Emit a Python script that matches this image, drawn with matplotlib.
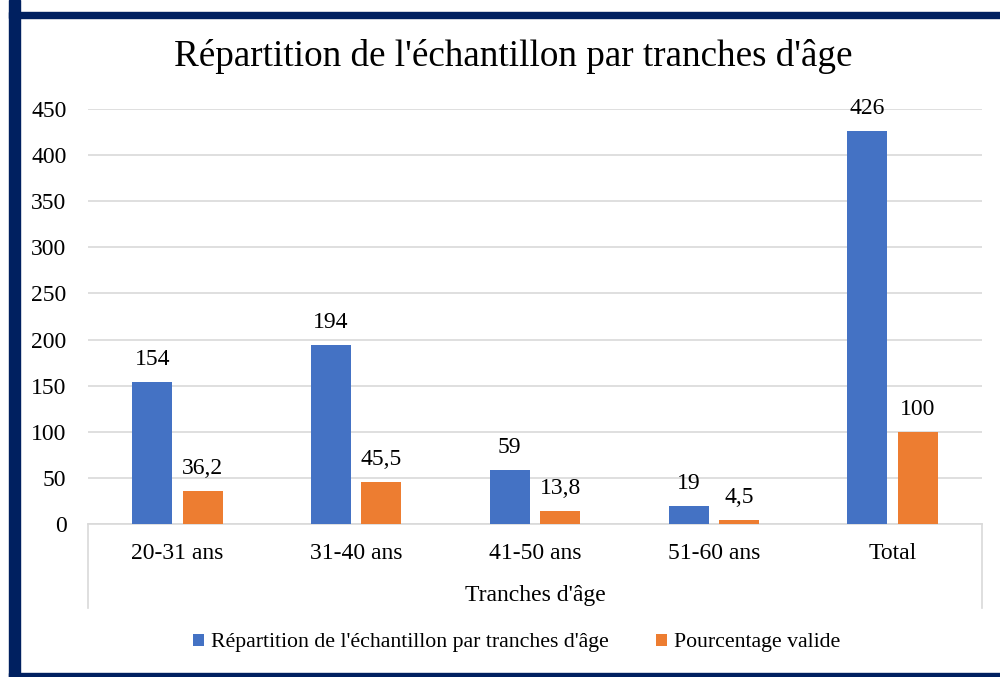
import matplotlib
matplotlib.use("Agg")
import matplotlib.pyplot as plt
from matplotlib.patches import Rectangle
import numpy as np

categories = ["20-31 ans", "31-40 ans", "41-50 ans", "51-60 ans", "Total"]
effectifs = [154, 194, 59, 19, 426]
pourcentages = [36.2, 45.5, 13.8, 4.5, 100]
series_names = ["Répartition de l'échantillon par tranches d'âge", "Pourcentage valide"]
yticks = [0, 50, 100, 150, 200, 250, 300, 350, 400, 450]

BLUE = "#4472C4"
ORANGE = "#ED7D31"
NAVY = "#002060"
GRID = "#D9D9D9"

plt.rcParams['font.family'] = ['Liberation Serif', 'DejaVu Serif']

W, H = 1000, 677
fig = plt.figure(figsize=(W / 100, H / 100), dpi=100)

def fx(px):
    return px / W

def fy(py):
    return 1 - py / H

# border
fig.patches.append(Rectangle((fx(9), fy(677)), fx(11), 677 / H, transform=fig.transFigure, color=NAVY, zorder=0))
fig.patches.append(Rectangle((fx(9), fy(18)), 1, 6 / H, transform=fig.transFigure, color=NAVY, zorder=0))
fig.patches.append(Rectangle((fx(9), fy(677)), 1, 4 / H, transform=fig.transFigure, color=NAVY, zorder=0))

left, right, top, bottom = 88, 982, 109, 524
ax = fig.add_axes([fx(left), fy(bottom), fx(right - left), (bottom - top) / H])

x = np.arange(len(categories))
off = 0.141
bw = 0.224
ax.bar(x - off, effectifs, bw, color=BLUE, label=series_names[0], zorder=3)
ax.bar(x + off, pourcentages, bw, color=ORANGE, label=series_names[1], zorder=3)

def fmt(v):
    s = f"{v:g}"
    return s.replace(".", ",")

for xi, v in zip(x - off, effectifs):
    ax.annotate(fmt(v), (xi, v), xytext=(0, 12), textcoords="offset pixels",
                ha="center", va="bottom", fontsize=17)
for xi, v in zip(x + off, pourcentages):
    ax.annotate(fmt(v), (xi, v), xytext=(0, 12), textcoords="offset pixels",
                ha="center", va="bottom", fontsize=17)

ax.set_xlim(-0.5, len(categories) - 0.5)
ax.set_ylim(0, 450)
ax.set_yticks(yticks)
ax.set_yticklabels([str(t) for t in yticks], fontsize=17)
ax.set_xticks(x)
ax.set_xticklabels(categories, fontsize=17)
ax.tick_params(axis='both', length=0)
ax.tick_params(axis='y', pad=15.5)
ax.tick_params(axis='x', pad=14)
ax.grid(axis='y', color=GRID, linewidth=1.2, zorder=0)
for s in ['top', 'right', 'left']:
    ax.spines[s].set_visible(False)
ax.spines['bottom'].set_color(GRID)
ax.spines['bottom'].set_linewidth(1.2)

# category frame lines
depth = (608 - 524) / (bottom - top)
for xa in (0, 1):
    ax.plot([xa, xa], [0, -depth], transform=ax.transAxes, color=GRID, lw=1.2, clip_on=False)

ax.set_xlabel("Tranches d'âge", fontsize=17, labelpad=15)

fig.text(fx(513), fy(56), "Répartition de l'échantillon par tranches d'âge",
         ha="center", va="center", fontsize=26.7)

leg = fig.legend(loc="center", bbox_to_anchor=(fx(516.5), fy(643)), ncol=2, frameon=False,
                 fontsize=15.7, handlelength=0.5, handleheight=0.5, handletextpad=0.3,
                 columnspacing=2.2)

fig.savefig("out.png", dpi=100)
